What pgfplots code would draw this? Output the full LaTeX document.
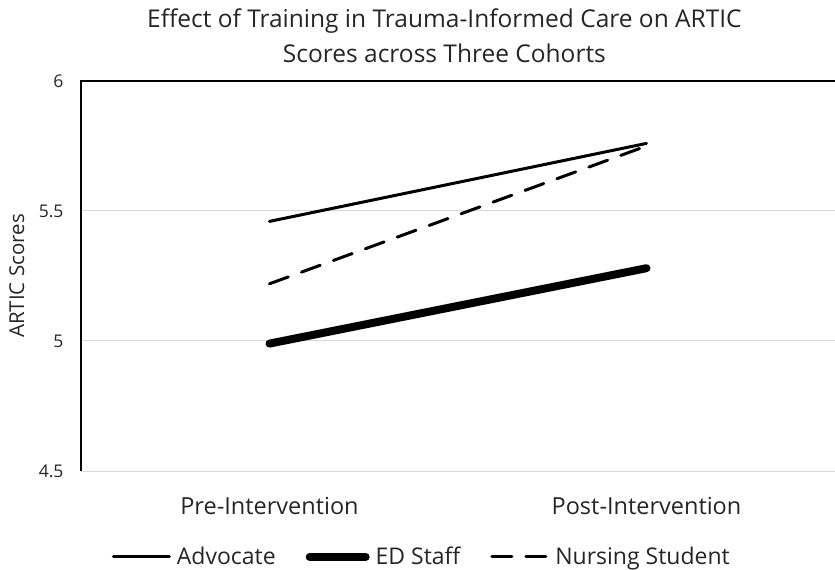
\documentclass[border=0pt]{standalone}
\usepackage{fontspec}
\setmainfont{Open Sans}
\usepackage{pgfplots}
\pgfplotsset{compat=1.18}
\definecolor{txt}{RGB}{38,38,38}
\definecolor{grd}{RGB}{217,217,217}
\begin{document}
\begin{tikzpicture}
\begin{axis}[
  scale only axis,
  width=754bp, height=390bp,
  xmin=0.5, xmax=2.5,
  ymin=4.5, ymax=6,
  xtick={1,2},
  xticklabels={Pre-Intervention,Post-Intervention},
  ytick={4.5,5,5.5,6},
  yticklabels={4.5,5,5.5,6},
  ymajorgrids,
  grid style={grd, line width=1bp},
  axis line style={draw=none},
  major tick length=0pt,
  tick style={draw=none},
  /pgf/number format/assume math mode=true,
  xticklabel style={font=\fontsize{23.5bp}{27bp}\selectfont, text=txt, yshift=-23bp},
  yticklabel style={font=\fontsize{17.5bp}{20bp}\selectfont, text=txt, xshift=-14bp},
  ylabel={ARTIC Scores},
  ylabel style={font=\fontsize{20.5bp}{24bp}\selectfont, text=txt,
    at={(axis description cs:-0.085,0.5)}, anchor=center},
  title={Effect of Training in Trauma-Informed Care on ARTIC\\Scores across Three Cohorts},
  title style={font=\fontsize{24.5bp}{35bp}\selectfont, text=txt, align=center, at={(0.482,1)}, yshift=9bp},
  legend columns=3,
  legend style={draw=none, at={(0.452,-0.185)}, anchor=north,
    font=\fontsize{23bp}{27bp}\selectfont, text=txt,
    /tikz/every even column/.append style={column sep=28bp},
    /tikz/every odd column/.append style={column sep=4bp},
    cells={anchor=west}},
  legend image code/.code={\draw[#1] (0bp,0bp) -- (56bp,0bp);},
  clip=false,
]
\addplot[black, line width=3bp, line cap=round] coordinates {(1,5.46) (2,5.76)};
\addlegendentry{Advocate}
\addplot[black, line width=8bp, line cap=round] coordinates {(1,4.99) (2,5.28)};
\addlegendentry{ED Staff}
\addplot[black, line width=3bp, line cap=round, dash pattern=on 20bp off 14bp] coordinates {(1,5.22) (2,5.75)};
\addlegendentry{Nursing Student}
\draw[black, line width=1.8bp] (rel axis cs:0,0) -- (rel axis cs:0,1) -- (rel axis cs:1,1);
\coordinate (bl) at (rel axis cs:0,0);
\coordinate (tr) at (rel axis cs:1,1);
\end{axis}
\pgfresetboundingbox
\path[use as bounding box] ([shift={(-81bp,-99bp)}]bl) rectangle ([shift={(0bp,81bp)}]tr);
\end{tikzpicture}
\end{document}
